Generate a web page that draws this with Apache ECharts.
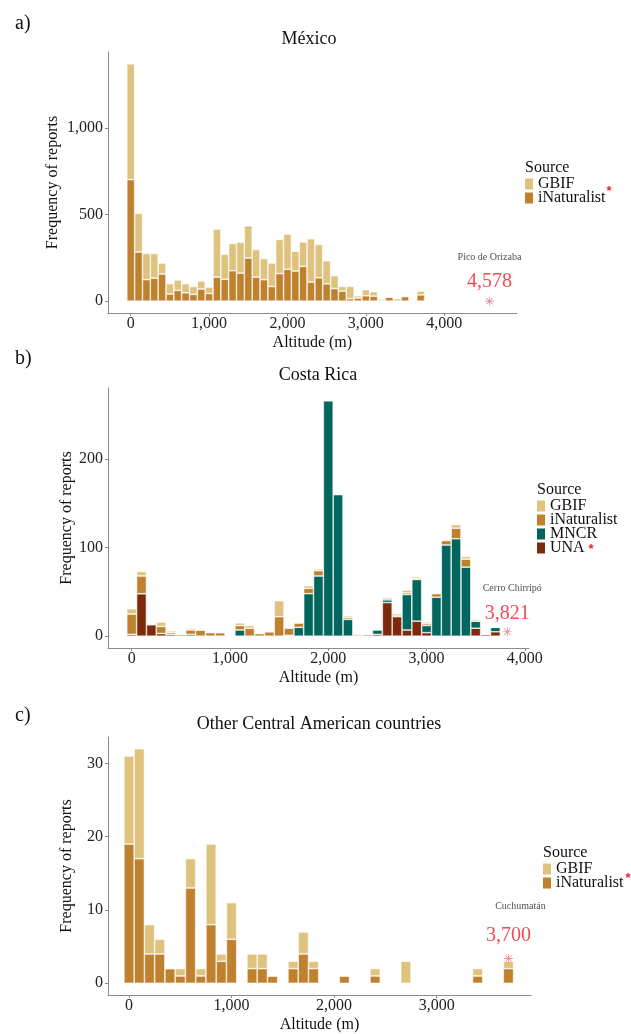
<!DOCTYPE html>
<html><head><meta charset="utf-8">
<script src="https://cdn.jsdelivr.net/npm/echarts@6/dist/echarts.min.js"></script>
<style>html,body{margin:0;padding:0;background:#fff}#c{width:631px;height:1034px}</style>
</head><body><div id="c"></div>
<script>
// ---------- DATA ----------
// Panel a) México, 100 m altitude bins
const altitudeA = [0,100,200,300,400,500,600,700,800,900,1000,1100,1200,1300,1400,1500,1600,1700,1800,1900,2000,2100,2200,2300,2400,2500,2600,2700,2800,2900,3000,3100,3200,3300,3400,3500,3600,3700,4200];
const inatA = [702,284,124,133,157,41,62,48,39,70,44,139,126,176,162,249,139,124,85,159,184,174,201,110,135,100,72,58,14,18,31,29,6,23,0,26,3,36,0];
const gbifA = [668,223,151,142,63,60,60,53,46,46,37,277,145,157,178,186,159,122,135,197,203,114,141,250,192,133,75,27,71,13,35,26,8,3,14,6,3,22,4];

// Panel b) Costa Rica
const altitudeB = [0,100,200,300,400,500,600,700,800,900,1000,1100,1200,1300,1400,1500,1600,1700,1800,1900,2000,2100,2200,2300,2400,2500,2600,2700,2800,2900,3000,3100,3200,3300,3400,3500,3600,3700];
const unaB  = [2,48,13,3,2,0,0,0,0,0,0,0,0,0,0,0,0,0,0,0,0,0,0,0,0,2,38,22,7,17,4,0,0,0,0,9,2,5];
const mncrB = [0,0,0,0,0,0,2,0,0,0,0,7,0,0,0,0,1,10,48,68,266,160,19,0,0,5,3,1,40,47,8,44,103,110,78,8,0,5];
const inatB = [23,20,1,8,2,2,5,7,4,4,0,5,9,3,5,22,8,5,6,6,0,0,2,0,2,1,2,2,2,1,2,4,5,12,9,0,0,0];
const gbifB = [6,5,1,5,2,0,2,0,1,0,1,3,3,0,0,18,1,0,3,2,1,0,2,2,0,1,1,1,3,2,2,1,1,4,3,2,0,0];

// Panel c) Other Central American countries
const altitudeC = [0,100,200,300,400,500,600,700,800,900,1000,1100,1200,1300,1400,1500,1600,1700,1800,1900,2000,2100,2200,2300,2400,2500,2600,2700,2800,2900,3000,3100,3200,3300,3400,3500,3600,3700];
const inatC = [19,17,4,4,2,1,13,1,8,3,6,0,2,2,1,0,2,4,2,0,0,1,0,0,1,0,0,0,0,0,0,0,0,0,1,0,0,2];
const gbifC = [12,15,4,2,0,1,4,1,11,1,5,0,2,2,0,0,1,3,1,0,0,0,0,0,1,0,0,3,0,0,0,0,0,0,1,0,0,1];

// Highest peaks
const peakNames = ['Pico de Orizaba','Cerro Chirripó','Cuchumatán'];
const peakAltitudes = [4578,3821,3700];
const peakMarkY = [0,5,3.4];

// Tick values
const xTicksA = [0,1000,2000,3000,4000];
const xTicksB = [0,1000,2000,3000,4000];
const xTicksC = [0,1000,2000,3000];
const yTicksA = [0,500,1000];
const yTicksB = [0,100,200];
const yTicksC = [0,10,20,30];

// ---------- STYLE ----------
const FONT = 'Liberation Serif';
const COL = {GBIF:'#DFC27D', iNaturalist:'#BF812D', MNCR:'#01665E', UNA:'#7D2A0C'};
const AXIS = '#8c8c8c';
const RED = '#ee1c25';
const ASTER = 'path://M0,9.3L20,9.3L20,10.7L0,10.7Z M9.3,0L10.7,0L10.7,20L9.3,20Z M2.4,3.4L3.4,2.4L17.6,16.6L16.6,17.6Z M17.6,3.4L16.6,2.4L2.4,16.6L3.4,17.6Z';
const fmt = v => String(v).replace(/\B(?=(\d{3})+(?!\d))/g, ',');

const panels = [
  {left:108, top:52,  width:408.7, height:261, xMin:-290, xMax:4925, yMin:-68.5, yMax:1438.5, xt:xTicksA, yt:yTicksA, yGap:47},
  {left:108, top:388, width:421,   height:260, xMin:-241, xMax:4042, yMin:-13.35, yMax:280.35, xt:xTicksB, yt:yTicksB, yGap:33},
  {left:108, top:737, width:423,   height:260, xMin:-205, xMax:3920, yMin:-1.6, yMax:33.6, xt:xTicksC, yt:yTicksC, yGap:33}
];
const bw = panels.map(p => p.width * 100 / (p.xMax - p.xMin));

function barSeries(name, alts, vals, idx) {
  return {
    type:'bar', name, xAxisIndex:idx, yAxisIndex:idx, stack:'s'+idx, barWidth:bw[idx],
    encode:{x:1, y:0},
    data: alts.map((a,i) => [vals[i], a]),
    itemStyle:{color:COL[name], borderColor:'#fff', borderWidth:0.6},
    emphasis:{disabled:true}
  };
}

function peakSeries(idx, lh, padA, dist) {
  return {
    type:'scatter', xAxisIndex:idx, yAxisIndex:idx, silent:true, z:5,
    data:[[peakAltitudes[idx], peakMarkY[idx]]],
    symbol:ASTER, symbolSize:9, itemStyle:{color:'#f0505a'},
    label:{show:true, position:'top', distance:dist,
      formatter:'{a|' + peakNames[idx] + '}\n{b|' + fmt(peakAltitudes[idx]) + '}',
      rich:{a:{fontFamily:FONT, fontSize:10, color:'#222', lineHeight:lh, padding:[0,0,0,padA]},
            b:{fontFamily:FONT, fontSize:20, color:RED, lineHeight:22}}}
  };
}

const option = {
  animation:false,
  backgroundColor:'#fff',
  grid: panels.map(p => ({left:p.left, top:p.top, width:p.width, height:p.height})),
  xAxis: panels.map((p,i) => ({
    gridIndex:i, type:'value', min:p.xMin, max:p.xMax,
    axisLine:{show:true, onZero:false, lineStyle:{color:AXIS, width:1}},
    axisTick:{show:true, length:3, customValues:p.xt, lineStyle:{color:AXIS}},
    axisLabel:{customValues:p.xt, formatter:fmt, fontFamily:FONT, fontSize:16, color:'#222', margin:3},
    splitLine:{show:false},
    name:'Altitude (m)', nameLocation:'middle', nameGap:22, nameMoveOverlap:false,
    nameTextStyle:{fontFamily:FONT, fontSize:16, color:'#111'}
  })),
  yAxis: panels.map((p,i) => ({
    gridIndex:i, type:'value', min:p.yMin, max:p.yMax,
    axisLine:{show:true, onZero:false, lineStyle:{color:AXIS, width:1}},
    axisTick:{show:true, length:3, customValues:p.yt, lineStyle:{color:AXIS}},
    axisLabel:{customValues:p.yt, formatter:fmt, fontFamily:FONT, fontSize:16, color:'#222', margin:5},
    splitLine:{show:false},
    name:'Frequency of reports', nameLocation:'middle', nameGap:p.yGap, nameMoveOverlap:false,
    nameTextStyle:{fontFamily:FONT, fontSize:16, color:'#111'}
  })),
  legend: [
    {data:['GBIF','iNaturalist'], left:525, top:176},
    {data:['GBIF','iNaturalist','MNCR','UNA'], left:537, top:498},
    {data:['GBIF','iNaturalist'], left:543, top:861}
  ].map(l => Object.assign(l, {orient:'vertical', padding:0, itemWidth:8, itemHeight:11, itemGap:-2, icon:'rect',
      selectedMode:false, itemStyle:{borderWidth:0},
      textStyle:{fontFamily:FONT, fontSize:16, lineHeight:11, color:'#111'}})),
  series: [
    barSeries('iNaturalist', altitudeA, inatA, 0),
    barSeries('GBIF', altitudeA, gbifA, 0),
    barSeries('UNA', altitudeB, unaB, 1),
    barSeries('MNCR', altitudeB, mncrB, 1),
    barSeries('iNaturalist', altitudeB, inatB, 1),
    barSeries('GBIF', altitudeB, gbifB, 1),
    barSeries('iNaturalist', altitudeC, inatC, 2),
    barSeries('GBIF', altitudeC, gbifC, 2),
    peakSeries(0, 26, 0, 4),
    peakSeries(1, 28, 10, 3),
    peakSeries(2, 36, 24, 7)
  ],
  graphic: [
    ['a)', 15, 24], ['b)', 15, 359], ['c)', 15, 716]
  ].map(t => ({type:'text', x:t[1], y:t[2], style:{text:t[0], font:'20px "Liberation Serif"', fill:'#111', textAlign:'left', textVerticalAlign:'middle'}}))
  .concat([
    ['México', 309, 39], ['Costa Rica', 318, 375], ['Other Central American countries', 319, 724]
  ].map(t => ({type:'text', x:t[1], y:t[2], style:{text:t[0], font:'18px "Liberation Serif"', fill:'#111', textAlign:'center', textVerticalAlign:'middle'}})))
  .concat([
    [525, 168], [537, 490], [543, 853]
  ].map(t => ({type:'text', x:t[0], y:t[1], style:{text:'Source', font:'16px "Liberation Serif"', fill:'#111', textAlign:'left', textVerticalAlign:'middle'}})))
  .concat([
    [609, 191], [591, 549], [628, 878]
  ].map(t => ({type:'text', x:t[0], y:t[1], style:{text:'*', font:'bold 13px "Liberation Sans"', fill:RED, textAlign:'center', textVerticalAlign:'middle'}})))
};

const chart = echarts.init(document.getElementById('c'), null, {renderer:'canvas', width:631, height:1034});
chart.setOption(option);
</script>
</body></html>
